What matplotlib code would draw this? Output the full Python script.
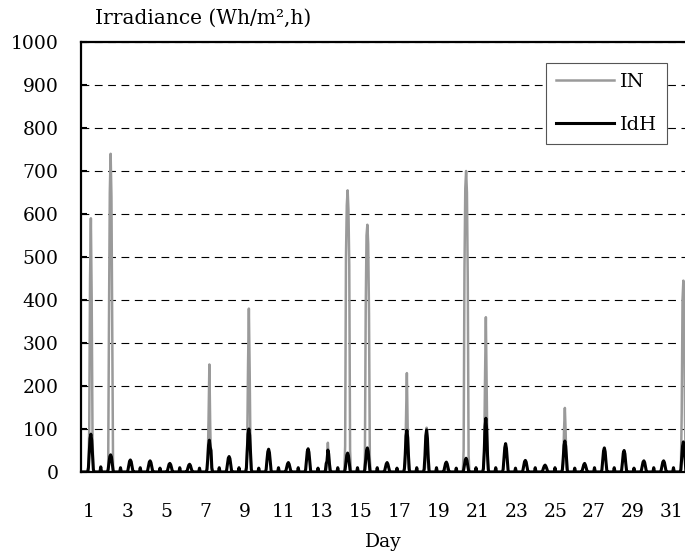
import matplotlib
matplotlib.use("Agg")
import matplotlib.pyplot as plt

plt.rcParams["font.family"] = ["DejaVu Serif", "Liberation Serif"]

# hourly values for hours 9..15 of each day of the month (zero outside)
DAY_HOURS = [9, 10, 11, 12, 13, 14, 15]

in_daily = [
    [0, 100, 450, 590, 400, 80, 0],     # 1
    [0, 350, 650, 740, 640, 340, 0],    # 2
    [0, 0, 0, 0, 0, 0, 0],              # 3
    [0, 0, 0, 0, 0, 0, 0],              # 4
    [0, 0, 0, 0, 0, 0, 0],              # 5
    [0, 0, 0, 0, 0, 0, 0],              # 6
    [0, 20, 120, 250, 110, 20, 0],      # 7
    [0, 0, 0, 0, 0, 0, 0],              # 8
    [0, 60, 250, 380, 230, 40, 0],      # 9
    [0, 0, 0, 0, 0, 0, 0],              # 10
    [0, 0, 0, 0, 0, 0, 0],              # 11
    [0, 0, 0, 0, 0, 0, 0],              # 12
    [0, 0, 30, 68, 30, 0, 0],           # 13
    [60, 500, 620, 655, 610, 480, 50],  # 14
    [30, 380, 550, 575, 530, 368, 30],  # 15
    [0, 0, 0, 0, 0, 0, 0],              # 16
    [0, 20, 120, 230, 100, 10, 0],      # 17
    [0, 10, 60, 103, 60, 10, 0],        # 18
    [0, 0, 12, 22, 12, 0, 0],           # 19
    [50, 470, 660, 700, 650, 450, 40],  # 20
    [0, 50, 220, 360, 200, 30, 0],      # 21
    [0, 0, 0, 0, 0, 0, 0],              # 22
    [0, 0, 0, 0, 0, 0, 0],              # 23
    [0, 0, 0, 0, 0, 0, 0],              # 24
    [0, 20, 98, 149, 90, 10, 0],        # 25
    [0, 0, 0, 0, 0, 0, 0],              # 26
    [0, 0, 0, 0, 0, 0, 0],              # 27
    [0, 0, 0, 0, 0, 0, 0],              # 28
    [0, 0, 0, 0, 0, 0, 0],              # 29
    [0, 0, 0, 0, 0, 0, 0],              # 30
    [0, 137, 400, 445, 384, 120, 0],    # 31
]

idh_daily = [
    [10, 45, 78, 88, 74, 38, 6],
    [6, 22, 36, 40, 35, 20, 4],
    [4, 15, 25, 28, 24, 13, 3],
    [4, 14, 23, 26, 22, 12, 3],
    [3, 11, 18, 20, 17, 10, 2],
    [3, 10, 16, 18, 15, 8, 2],
    [6, 30, 62, 74, 58, 50, 10],
    [5, 19, 32, 36, 31, 17, 3],
    [10, 50, 88, 100, 85, 45, 6],
    [6, 28, 47, 53, 45, 25, 4],
    [3, 11, 19, 22, 18, 10, 2],
    [6, 28, 48, 54, 46, 26, 4],
    [4, 20, 25, 51, 42, 18, 3],
    [6, 22, 39, 44, 38, 20, 4],
    [6, 29, 50, 56, 48, 27, 4],
    [3, 11, 19, 22, 18, 10, 2],
    [8, 40, 84, 97, 80, 36, 5],
    [7, 38, 84, 98, 78, 32, 4],
    [3, 12, 20, 23, 19, 11, 2],
    [5, 16, 28, 32, 27, 15, 3],
    [8, 45, 105, 125, 98, 40, 5],
    [6, 32, 57, 66, 55, 28, 4],
    [4, 14, 24, 27, 23, 12, 2],
    [3, 9, 14, 16, 13, 8, 2],
    [6, 32, 62, 72, 60, 30, 4],
    [3, 10, 17, 20, 16, 9, 2],
    [5, 26, 49, 56, 47, 23, 3],
    [5, 23, 44, 50, 42, 20, 3],
    [4, 14, 23, 26, 22, 12, 2],
    [4, 14, 23, 26, 22, 12, 2],
    [6, 32, 60, 70, 60, 30, 4],
]

# small spike at midnight at the start of each day
idh_midnight = [0, 12, 10, 10, 9, 10, 9, 10, 10, 9, 10, 10, 9, 10, 10, 10,
                9, 10, 10, 9, 10, 10, 9, 10, 10, 9, 10, 10, 9, 10, 10]

tick_days = list(range(1, 32, 2))


def build_hourly():
    t, in_vals, idh_vals = [], [], []
    for i in range(len(in_daily)):
        for h in range(24):
            t.append(i + h / 24)
            if h in DAY_HOURS:
                k = DAY_HOURS.index(h)
                in_vals.append(in_daily[i][k])
                idh_vals.append(idh_daily[i][k])
            else:
                in_vals.append(0)
                idh_vals.append(idh_midnight[i] if h == 0 else 0)
    return t, in_vals, idh_vals


t, in_vals, idh_vals = build_hourly()

fig = plt.figure(figsize=(6.85, 5.6), dpi=100)
ax = fig.add_axes([81 / 685, 1 - 472 / 560, 1 - 81 / 685, 430 / 560])

ax.plot(t, in_vals, color="#9a9a9a", lw=1.8, label="IN", solid_joinstyle="round")
ax.plot(t, idh_vals, color="black", lw=2.2, label="IdH", solid_joinstyle="round")

ax.set_xlim(0, 30 + 14 / 24)
ax.set_ylim(0, 1000)
ax.set_yticks(range(0, 1001, 100))
ax.set_xticks([(d - 1) * 0.984 + 0.4 for d in tick_days])
ax.set_xticklabels([str(d) for d in tick_days])

ax.grid(axis="y", color="black", lw=0.8, linestyle=(0, (7, 5)))
ax.set_axisbelow(True)

ax.tick_params(axis="y", direction="in", length=4, width=1.5, pad=16, labelsize=13.5)
ax.tick_params(axis="x", length=0, pad=22, labelsize=13.5)

for side in ["left", "top", "bottom"]:
    ax.spines[side].set_linewidth(1.6)
ax.spines["right"].set_visible(False)

ax.set_xlabel("Day", fontsize=13.5, labelpad=9)
fig.text(95 / 685, 1 - 18 / 560, "Irradiance (Wh/m²,h)", fontsize=14.5,
         ha="left", va="center")

leg = ax.legend(loc="upper right", bbox_to_anchor=(0.970, 0.951), borderaxespad=0,
                fontsize=14, handlelength=3.0, handletextpad=0.3,
                labelspacing=1.3, borderpad=0.5, fancybox=False, framealpha=1)
leg.get_frame().set_edgecolor("#555555")
leg.get_frame().set_linewidth(0.8)

fig.savefig("out.png", dpi=100)
